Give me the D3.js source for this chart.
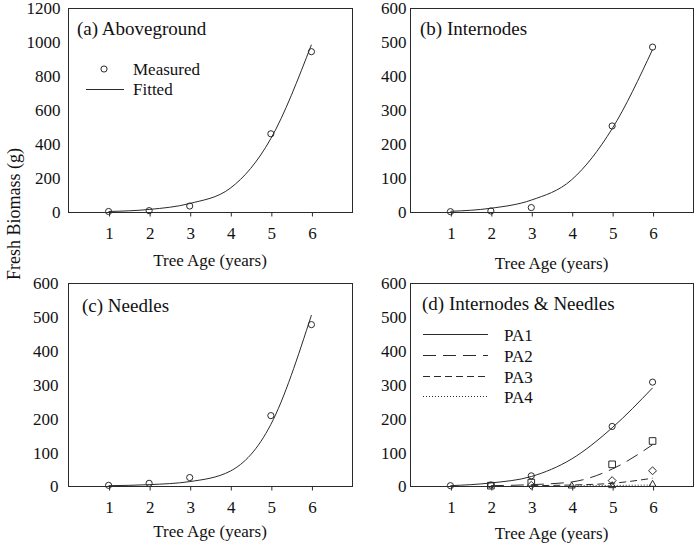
<!DOCTYPE html>
<html>
<head>
<meta charset="utf-8">
<script src="https://cdn.jsdelivr.net/npm/d3@7"></script>
<style>
  html, body { margin: 0; padding: 0; background: #fff; }
  svg { display: block; }
  text { font-family: "Liberation Serif", "Times New Roman", serif; fill: #111; }
</style>
</head>
<body>
<svg id="chart" width="698" height="544"></svg>
<script>
// ---------- data ----------
const ages = [1, 2, 3, 4, 5, 6];
const xTicks = [1, 2, 3, 4, 5, 6];

// (a) Aboveground
const aboveMeasured = [3, 8, 35, null, 460, 943];
const aboveFitted   = [3, 15, 50, 140, 432, 984];
// (b) Internodes
const interMeasured = [1, 3, 13, null, 253, 485];
const interFitted   = [2, 11, 35, 95, 245, 478];
// (c) Needles
const needleMeasured = [2, 8, 25, null, 208, 477];
const needleFitted   = [1, 4, 13, 44, 182, 505];
// (d) Internodes & Needles by age class
const pa1Measured = [1, 3, 30, null, 176, 307];
const pa1Fitted   = [1, 9, 28, 80, 172, 290];
const pa2Measured = [null, 1, 10, null, 64, 133];
const pa2Fitted   = [null, 1, 4, 12, 50, 122];
const pa3Measured = [null, null, 2, null, 16, 45];
const pa3Fitted   = [null, null, 1, 3, 8, 23];
const pa4Measured = [null, null, null, 0, 1, 5];
const pa4Fitted   = [null, null, null, 0.5, 1.5, 3];

const yTicksBig = [0, 200, 400, 600, 800, 1000, 1200];
const yTicksSmall = [0, 100, 200, 300, 400, 500, 600];

// ---------- drawing ----------
const svg = d3.select("#chart");
const ink = "#2a2a2a";

function panel(cfg) {
  const x = d3.scaleLinear().domain([0, 7]).range([cfg.left, cfg.right]);
  const y = d3.scaleLinear().domain([0, cfg.ymax]).range([cfg.bottom, cfg.top]);
  const g = svg.append("g");

  // frame
  g.append("rect")
    .attr("x", cfg.left + 0.5).attr("y", cfg.top + 0.5)
    .attr("width", cfg.right - cfg.left).attr("height", cfg.bottom - cfg.top)
    .attr("fill", "none").attr("stroke", ink).attr("stroke-width", 1);

  // x axis
  const xa = g.append("g").attr("transform", `translate(0.5,${cfg.bottom + 0.5})`)
    .call(d3.axisBottom(x).tickValues(xTicks).tickSize(4).tickSizeOuter(0).tickPadding(6).tickFormat(d3.format("d")));
  xa.select(".domain").remove();
  xa.selectAll("line").attr("stroke", ink);
  xa.selectAll("text").attr("font-size", 17).attr("font-family", "Liberation Serif").attr("fill", "#111")
    .attr("y", 21).attr("dy", "0.35em");

  // y axis
  const ya = g.append("g").attr("transform", `translate(${cfg.left + 0.5},0.5)`)
    .call(d3.axisLeft(y).tickValues(cfg.yticks).tickSize(0).tickPadding(cfg.ypad).tickFormat(d3.format("d")));
  ya.select(".domain").remove();
  ya.selectAll("text").attr("font-size", 17).attr("font-family", "Liberation Serif").attr("fill", "#111");

  // x title
  g.append("text").attr("x", (cfg.left + cfg.right) / 2).attr("y", cfg.xTitleY)
    .attr("text-anchor", "middle").attr("font-size", 17).text("Tree Age (years)");

  // panel title
  g.append("text").attr("x", cfg.titleX).attr("y", cfg.titleY)
    .attr("font-size", 19).text(cfg.title);

  return { g, x, y };
}

function fitLine(p, vals, dash) {
  const pts = ages.map((a, i) => [a, vals[i]]).filter(d => d[1] !== null);
  p.g.append("path").datum(pts)
    .attr("d", d3.line().x(d => p.x(d[0])).y(d => p.y(d[1])).curve(d3.curveMonotoneX))
    .attr("fill", "none").attr("stroke", ink).attr("stroke-width", 1)
    .attr("stroke-dasharray", dash || null);
}

function markers(p, vals, shape) {
  const pts = ages.map((a, i) => [a, vals[i]]).filter(d => d[1] !== null);
  const sym = {
    circle: d3.symbol().type(d3.symbolCircle).size(30),
    square: d3.symbol().type(d3.symbolSquare).size(44),
    diamond: d3.symbol().type(d3.symbolDiamond2).size(40),
    triangle: d3.symbol().type(d3.symbolTriangle2).size(34)
  }[shape];
  p.g.selectAll(null).data(pts).enter().append("path")
    .attr("transform", d => `translate(${p.x(d[0])},${p.y(d[1])})`)
    .attr("d", sym).attr("fill", "#fff").attr("fill-opacity", 0)
    .attr("stroke", ink).attr("stroke-width", 1);
}

// (a)
const pa = panel({ left: 68, right: 352, top: 8, bottom: 212, ymax: 1200, yticks: yTicksBig, ypad: 8,
  title: "(a) Aboveground", titleX: 77, titleY: 34.5, xTitleY: 266 });
fitLine(pa, aboveFitted);
markers(pa, aboveMeasured, "circle");
// legend (a)
pa.g.append("path").attr("transform", "translate(104,69)")
  .attr("d", d3.symbol().type(d3.symbolCircle).size(30)).attr("fill", "none").attr("stroke", ink);
pa.g.append("text").attr("x", 133).attr("y", 75).attr("font-size", 17).text("Measured");
pa.g.append("line").attr("x1", 86).attr("x2", 124).attr("y1", 89.5).attr("y2", 89.5).attr("stroke", ink);
pa.g.append("text").attr("x", 133).attr("y", 95).attr("font-size", 17).text("Fitted");

// (b)
const pb = panel({ left: 410, right: 693, top: 8, bottom: 212, ymax: 600, yticks: yTicksSmall, ypad: 4,
  title: "(b) Internodes", titleX: 420, titleY: 34.5, xTitleY: 269 });
fitLine(pb, interFitted);
markers(pb, interMeasured, "circle");

// (c)
const pc = panel({ left: 68, right: 352, top: 283, bottom: 486, ymax: 600, yticks: yTicksSmall, ypad: 10,
  title: "(c) Needles", titleX: 82, titleY: 311.5, xTitleY: 537 });
fitLine(pc, needleFitted);
markers(pc, needleMeasured, "circle");

// (d)
const pd = panel({ left: 410, right: 693, top: 283, bottom: 486, ymax: 600, yticks: yTicksSmall, ypad: 4,
  title: "(d) Internodes & Needles", titleX: 422, titleY: 309.5, xTitleY: 539 });
const dashes = [null, "13,7", "7,4", "1,2"];
const seriesNames = ["PA1", "PA2", "PA3", "PA4"];
fitLine(pd, pa1Fitted, dashes[0]);
fitLine(pd, pa2Fitted, dashes[1]);
fitLine(pd, pa3Fitted, dashes[2]);
fitLine(pd, pa4Fitted, dashes[3]);
markers(pd, pa1Measured, "circle");
markers(pd, pa2Measured, "square");
markers(pd, pa3Measured, "diamond");
markers(pd, pa4Measured, "triangle");
// legend (d)
const legY = [334.5, 355.5, 376.5, 396.5];
seriesNames.forEach((name, i) => {
  pd.g.append("line").attr("x1", 423).attr("x2", 488).attr("y1", legY[i]).attr("y2", legY[i])
    .attr("stroke", ink).attr("stroke-dasharray", dashes[i]);
  pd.g.append("text").attr("x", 504).attr("y", legY[i] + 6).attr("font-size", 17).text(name);
});

// shared y label
svg.append("text").attr("transform", "translate(20,214) rotate(-90)")
  .attr("text-anchor", "middle").attr("font-size", 18).text("Fresh Biomass (g)");
</script>
</body>
</html>
